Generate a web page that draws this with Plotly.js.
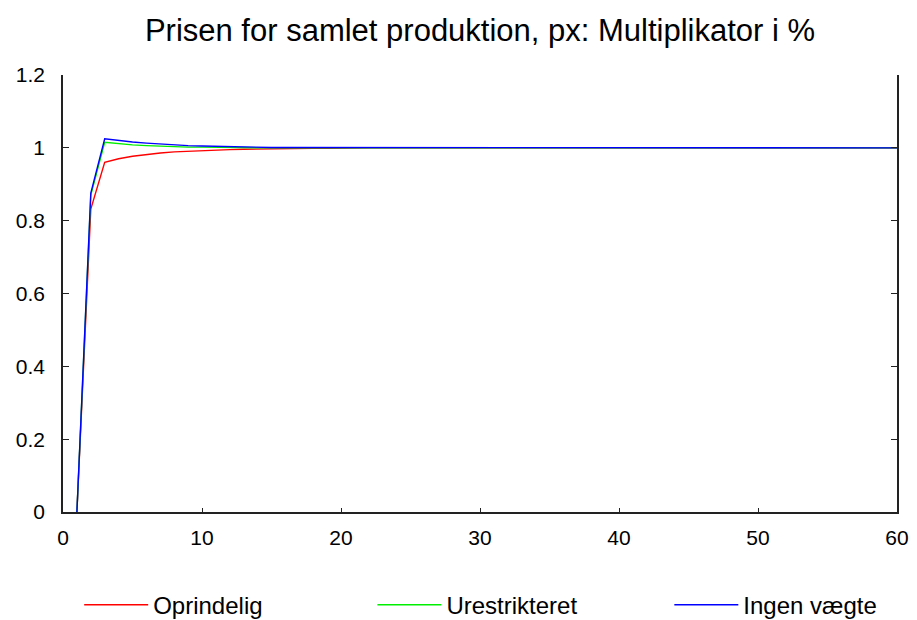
<!DOCTYPE html>
<html>
<head>
<meta charset="utf-8">
<script src="https://cdn.plot.ly/plotly-3.0.1.min.js"></script>
<style>html,body{margin:0;padding:0;background:#fff;}#chart{width:917px;height:620px;}</style>
</head>
<body>
<div id="chart"></div>
<script>
const periods = [1,2,3,4,5,6,7,8,9,10,11,12,13,14,15,16,17,18,19,20,21,22,23,24,25,26,27,28,29,30,31,32,33,34,35,36,37,38,39,40,41,42,43,44,45,46,47,48,49,50,51,52,53,54,55,56,57,58,59,60];
const oprindelig = [0,0.832,0.960,0.970,0.977,0.982,0.986,0.989,0.991,0.993,0.994,0.995,0.996,0.997,0.998,0.998,0.999,0.999,0.999,1.000,1,1,1,1,1,1,1,1,1,1,1,1,1,1,1,1,1,1,1,1,1,1,1,1,1,1,1,1,1,1,1,1,1,1,1,1,1,1,1,1];
const urestrikteret = [0,0.870,1.015,1.011,1.008,1.006,1.004,1.003,1.002,1.002,1.001,1.001,1.001,1.000,1.000,1,1,1,1,1,1,1,1,1,1,1,1,1,1,1,1,1,1,1,1,1,1,1,1,1,1,1,1,1,1,1,1,1,1,1,1,1,1,1,1,1,1,1,1,1];
const ingenVaegte = [0,0.876,1.025,1.020,1.016,1.013,1.010,1.008,1.006,1.005,1.004,1.003,1.002,1.002,1.001,1.001,1.001,1.000,1,1,1,1,1,1,1,1,1,1,1,1,1,1,1,1,1,1,1,1,1,1,1,1,1,1,1,1,1,1,1,1,1,1,1,1,1,1,1,1,1,1];
const seriesNames = ["Oprindelig","Urestrikteret","Ingen vægte"];
const yTicks = [0,0.2,0.4,0.6,0.8,1,1.2];
const yTickLabels = ["0","0.2","0.4","0.6","0.8","1","1.2"];
const xTicks = [0,10,20,30,40,50,60];

const colors = ["#ff0000","#00ee00","#0000ff"];
const ys = [oprindelig, urestrikteret, ingenVaegte];
const legendIds = ["legend","legend2","legend3"];
const traces = ys.map((y,i)=>({
  x: periods, y: y, type:'scatter', mode:'lines', name: seriesNames[i],
  legend: legendIds[i],
  line:{color:colors[i], width:1.4}
}));
const font = "Liberation Sans, Arial, Helvetica, sans-serif";
const legendX = [0.0194, 0.371, 0.727];
function leg(x){
  return {orientation:'h', x:x, xanchor:'left', xref:'paper', y:0.024, yref:'container', yanchor:'middle',
    font:{size:24, family:font, color:'#000'}, itemwidth:64, bgcolor:'rgba(0,0,0,0)', borderwidth:0};
}
const layout = {
  width:917, height:620,
  margin:{l:63, r:20, t:75, b:108},
  paper_bgcolor:'#fff', plot_bgcolor:'#fff',
  font:{family:font, size:21, color:'#000'},
  title:{text:"Prisen for samlet produktion, px: Multiplikator i %", x:0.5, xref:'paper', xanchor:'center', y:0.952, yanchor:'middle', font:{size:31, family:font, color:'#000'}},
  xaxis:{range:[0,60], tickvals:xTicks, ticks:'inside', ticklen:4, tickcolor:'#222', showline:true, linecolor:'#222', linewidth:1.8, mirror:false, showgrid:false, zeroline:false, tickfont:{size:21}, ticklabelstandoff:6},
  yaxis:{range:[0,1.2], tickvals:yTicks, ticktext:yTickLabels, ticks:'inside', ticklen:6, tickcolor:'#222', showline:true, linecolor:'#222', linewidth:1.8, mirror:'ticks', showgrid:false, zeroline:false, tickfont:{size:21}, ticklabelstandoff:12},
  showlegend:true,
  legend: leg(legendX[0]),
  legend2: leg(legendX[1]),
  legend3: leg(legendX[2])
};
Plotly.newPlot('chart', traces, layout, {displayModeBar:false, staticPlot:true});
</script>
</body>
</html>
